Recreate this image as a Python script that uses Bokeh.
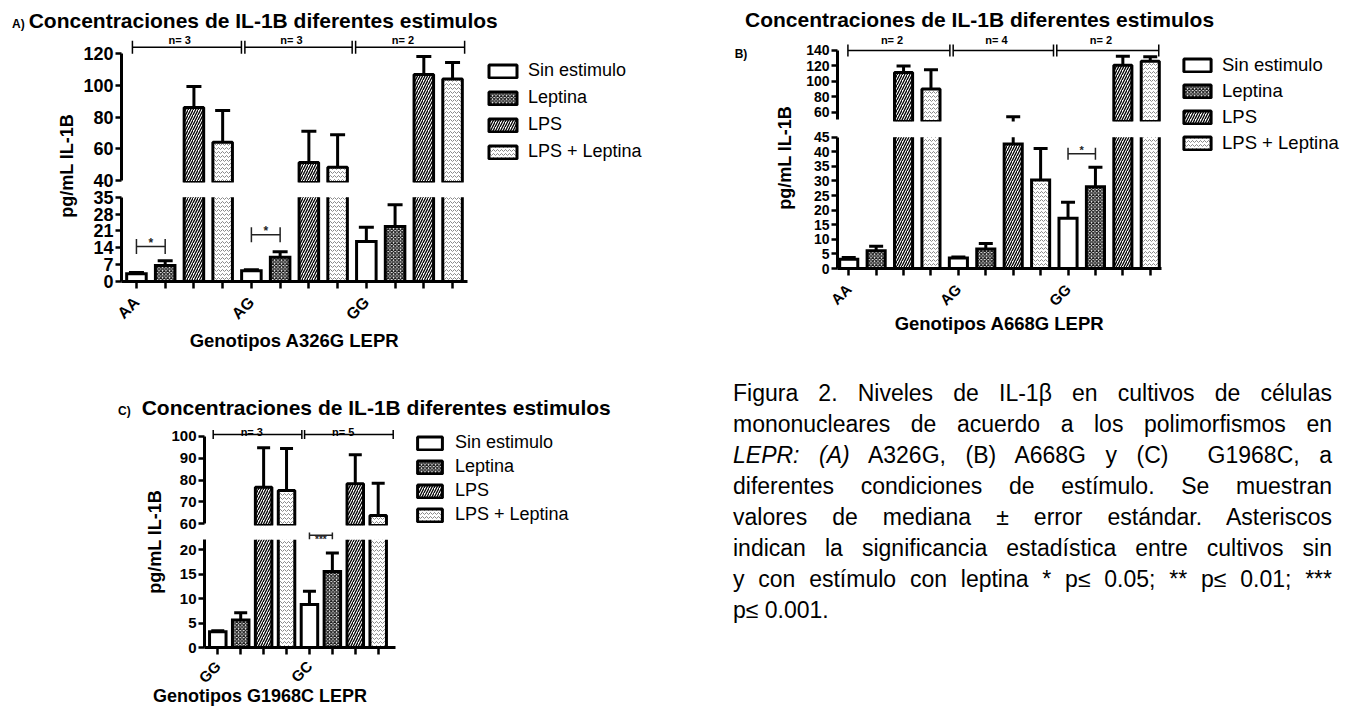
from math import pi
from bokeh.plotting import figure
from bokeh.models import (Range1d, FixedTicker, ColumnDataSource, Whisker, TeeHead,
                          Label, Legend, LegendItem, Div, Spacer)
from bokeh.layouts import row, column
from bokeh.embed import file_html
from bokeh.resources import INLINE
from bokeh.core.properties import value

FONT = "Liberation Sans"
CSS_FONT = "font-family:'Liberation Sans',Arial,sans-serif;"

# ---------------- data ----------------
conditions = ["Sin estimulo", "Leptina", "LPS", "LPS + Leptina"]
panel_title = "Concentraciones de IL-1B diferentes estimulos"
y_title = "pg/mL IL-1B"

# Panel A  (A326G)
a_genotypes = ["AA", "AG", "GG"]
a_n_labels = ["n= 3", "n= 3", "n= 2"]
a_sin = [3.2, 4.5, 16.6]
a_sin_err = [3.7, 4.9, 22.5]
a_lep = [6.6, 10.1, 22.8]
a_lep_err = [8.6, 12.3, 31.8]
a_lps = [86.1, 51.4, 106.9]
a_lps_err = [99.3, 71.1, 118.3]
a_lpslep = [64.2, 48.4, 104.0]
a_lpslep_err = [84.2, 68.9, 114.5]
a_sig_groups = [0, 1]
a_sig_levels = [14.5, 19.4]
a_sig_text = ["*", "*"]
a_upper_ticks = [40, 60, 80, 100, 120]
a_lower_ticks = [0, 7, 14, 21, 28, 35]
a_xtitle = "Genotipos A326G LEPR"

# Panel B  (A668G)
b_genotypes = ["AA", "AG", "GG"]
b_n_labels = ["n= 2", "n= 4", "n= 2"]
b_sin = [3.2, 3.6, 17.2]
b_sin_err = [3.8, 3.9, 22.7]
b_lep = [6.1, 6.7, 28.0]
b_lep_err = [7.6, 8.6, 34.7]
b_lps = [111.6, 42.7, 121.0]
b_lps_err = [120.0, 54.0, 132.5]
b_lpslep = [90.0, 30.3, 126.0]
b_lpslep_err = [115.0, 41.1, 132.0]
b_sig_groups = [2]
b_sig_levels = [39.3]
b_sig_text = ["*"]
b_upper_ticks = [60, 80, 100, 120, 140]
b_lower_ticks = [0, 5, 10, 15, 20, 25, 30, 35, 40, 45]
b_xtitle = "Genotipos A668G LEPR"

# Panel C  (G1968C)
c_genotypes = ["GG", "GC"]
c_n_labels = ["n= 3", "n= 5"]
c_sin = [3.2, 8.8]
c_sin_err = [3.4, 11.5]
c_lep = [5.6, 15.5]
c_lep_err = [7.1, 19.3]
c_lps = [76.8, 78.3]
c_lps_err = [94.9, 91.6]
c_lpslep = [75.3, 63.8]
c_lpslep_err = [94.5, 78.6]
c_sig_groups = [1]
c_sig_levels = [22.9]
c_sig_text = ["***"]
c_upper_ticks = [60, 70, 80, 90, 100]
c_lower_ticks = [0, 5, 10, 15, 20]
c_xtitle = "Genotipos G1968C LEPR"

caption_lines = [
    "Figura 2. Niveles de IL-1\u03b2 en cultivos de c\u00e9lulas",
    "mononucleares de acuerdo a los polimorfismos en",
    "<i>LEPR: (A)</i> A326G, (B) A668G y (C) &nbsp;G1968C, a",
    "diferentes condiciones de est\u00edmulo. Se muestran",
    "valores de mediana \u00b1 error est\u00e1ndar. Asteriscos",
    "indican la significancia estad\u00edstica entre cultivos sin",
    "y con est\u00edmulo con leptina * p\u2264 0.05; ** p\u2264 0.01; ***",
    "p\u2264 0.001.",
]

# ---------------- styles ----------------
STYLES = [
    dict(fill_color="white"),
    dict(fill_color="white", hatch_pattern="diagonal_cross", hatch_color="#1a1a1a",
         hatch_scale=3.5, hatch_weight=1.3),
    dict(fill_color="white", hatch_pattern="right_diagonal_line", hatch_color="#000000",
         hatch_scale=5, hatch_weight=1.3),
    dict(fill_color="white", hatch_pattern="horizontal_wave", hatch_color="#8a8a8a",
         hatch_scale=4, hatch_weight=1.0),
]


def base_fig(**kw):
    p = figure(toolbar_location=None, output_backend="svg", outline_line_color=None,
               background_fill_color="white", border_fill_color="white", **kw)
    p.grid.visible = False
    return p


def style_axis(ax, fs):
    ax.axis_line_width = 3
    ax.axis_line_color = "black"
    ax.major_tick_line_width = 2.5
    ax.major_tick_line_color = "black"
    ax.major_tick_out = 6
    ax.major_tick_in = 0
    ax.minor_tick_line_color = None
    ax.major_label_text_font = FONT
    ax.major_label_text_font_style = "bold"
    ax.major_label_text_font_size = f"{fs}px"
    ax.major_label_text_color = "black"
    ax.major_label_standoff = 2


def upper_bars(p, xs, vals, errs, w, lo, cap, style):
    # the frame clips everything below the break
    keep = [i for i, v in enumerate(vals) if v > lo]
    src = ColumnDataSource(dict(x=[xs[i] for i in keep], top=[vals[i] for i in keep]))
    p.vbar(x="x", top="top", bottom=0, width=w, source=src,
           line_color="black", line_width=3, **style)
    keep = [i for i, e in enumerate(errs) if e > lo]
    esrc = ColumnDataSource(dict(x=[xs[i] for i in keep], top=[vals[i] for i in keep],
                                 err=[errs[i] for i in keep]))
    p.segment(x0="x", y0="top", x1="x", y1="err", source=esrc, line_color="black", line_width=3)
    p.scatter(x="x", y="err", marker="dash", size=cap, source=esrc,
              line_color="black", line_width=3)


def lower_bars(p, xs, vals, errs, w, hi, cap, style):
    # bars are cut at the top of the lower segment (open at the break)
    tops = [min(v, hi) for v in vals]
    p.vbar(x=xs, top=tops, bottom=0, width=w, line_color=None, **style)
    mx, my = [], []
    for x, v, t in zip(xs, vals, tops):
        l, r = x - w / 2, x + w / 2
        if v <= hi:
            mx.append([l, l, r, r])
            my.append([0, t, t, 0])
        else:
            mx += [[l, l], [r, r]]
            my += [[0, t], [0, t]]
    p.multi_line(xs=mx, ys=my, line_color="black", line_width=3, line_join="miter")
    keep = [i for i, v in enumerate(vals) if v < hi]
    ex = [xs[i] for i in keep]
    p.segment(x0=ex, y0=[vals[i] for i in keep], x1=ex, y1=[min(errs[i], hi) for i in keep],
              line_color="black", line_width=3)
    keep = [i for i, e in enumerate(errs) if e <= hi]
    p.scatter(x=[xs[i] for i in keep], y=[errs[i] for i in keep], marker="dash", size=cap,
              line_color="black", line_width=3)


def build_panel(P):
    G = len(P["genotypes"])
    C = len(conditions)
    xr = Range1d(*P["xr"])
    figs = []
    for seg in ("upper", "lower"):
        S = P[seg]
        p = base_fig(x_range=xr, y_range=Range1d(*S["yr"]),
                     frame_width=P["fw"], frame_height=S["fh"],
                     min_border_left=P["mbl"], min_border_right=P["mbr"],
                     min_border_top=S["mbt"], min_border_bottom=S["mbb"],
                     x_axis_location=("below" if seg == "lower" else None))
        for c in range(C):
            xs = [g * C + c for g in range(G)]
            if seg == "upper":
                upper_bars(p, xs, P["vals"][c], P["errs"][c], P["bw"], S["yr"][0], P["cap"], STYLES[c])
            else:
                lower_bars(p, xs, P["vals"][c], P["errs"][c], P["bw"], S["bounds"][1], P["cap"], STYLES[c])
        yax = p.yaxis[0]
        style_axis(yax, P["ytick_fs"])
        yax.ticker = FixedTicker(ticks=S["ticks"])
        yax.bounds = S["bounds"]
        if seg == "upper":
            k = S["fh"] / (S["yr"][1] - S["yr"][0])
            top = S["ticks"][-1]
            lo, hi = P["xr"][0] + 0.38, P["xr"][1] - 0.1
            step = (hi - lo) / G
            x0s = [lo + g * step + (0.06 if g > 0 else 0) for g in range(G)]
            x1s = [lo + (g + 1) * step - (0.06 if g < G - 1 else 0) for g in range(G)]
            yb = top + P["br_dy"] / k
            bsrc = ColumnDataSource(dict(base=[yb] * G, lower=x0s, upper=x1s))
            p.add_layout(Whisker(source=bsrc, base="base", lower="lower", upper="upper",
                                 dimension="width", line_color="black", line_width=1.5,
                                 lower_head=TeeHead(size=P["br_tee"], line_width=1.5, line_color="black"),
                                 upper_head=TeeHead(size=P["br_tee"], line_width=1.5, line_color="black")))
            p.text(x=[(a + b) / 2 - 0.25 for a, b in zip(x0s, x1s)],
                   y=[top + P["nlab_dy"] / k] * G, text=P["n_labels"],
                   text_align="center", text_baseline="alphabetic",
                   text_font=value(FONT), text_font_style="bold",
                   text_font_size="11px", text_color="black")
        else:
            xax = p.xaxis[0]
            style_axis(xax, P["xlab_fs"])
            xax.ticker = FixedTicker(ticks=list(range(G * C)))
            xax.major_label_overrides = {i: (P["genotypes"][i // C] if i % C == 0 else "")
                                         for i in range(G * C)}
            xax.major_label_orientation = pi / 4
            xax.major_tick_out = 7
            xax.major_label_standoff = P["xlab_standoff"]
            xax.bounds = (P["xr"][0], P["xr"][1])
            if P["xtitle"]:
                xax.axis_label = P["xtitle"]
                xax.axis_label_text_font = FONT
                xax.axis_label_text_font_style = "bold"
                xax.axis_label_text_font_size = "18.5px"
                xax.axis_label_text_color = "black"
                xax.axis_label_standoff = P["xtitle_standoff"]
            sx0 = [g * C for g in P["sig_groups"]]
            sx1 = [g * C + 1 for g in P["sig_groups"]]
            ssrc = ColumnDataSource(dict(base=P["sig_levels"], lower=sx0, upper=sx1))
            p.add_layout(Whisker(source=ssrc, base="base", lower="lower", upper="upper",
                                 dimension="width", line_color="#222", line_width=1.5,
                                 lower_head=TeeHead(size=P["sig_tee"], line_width=1.5, line_color="#222"),
                                 upper_head=TeeHead(size=P["sig_tee"], line_width=1.5, line_color="#222")))
            for a, b, lev, t in zip(sx0, sx1, P["sig_levels"], P["sig_text"]):
                p.add_layout(Label(x=(a + b) / 2, y=lev, text=t, text_align="center",
                                   text_baseline="alphabetic", y_offset=P["star_dy"],
                                   text_font=FONT, text_font_style="bold",
                                   text_font_size=P["star_fs"], text_color="#222"))
        figs.append(p)
    return figs


def label_div(width, height, items):
    # items: (center x, center y, text, font px, rotation deg counter-clockwise)
    spans = "".join(
        f'<span style="position:absolute;left:{x}px;top:{y}px;'
        f'transform:translate(-50%,-50%) rotate({-deg}deg);white-space:nowrap;'
        f'font-size:{fs}px;line-height:1;">{txt}</span>'
        for (x, y, txt, fs, deg) in items)
    html = (f'<div style="position:relative;width:{width}px;height:{height}px;{CSS_FONT}'
            f'font-weight:bold;color:#000;">{spans}</div>')
    return Div(text=html, width=width, height=height, margin=0)


def legend_fig(width, height, mbl, mbt, gw, gh, standoff, spacing, fs):
    p = base_fig(x_range=Range1d(0, 1), y_range=Range1d(0, 1),
                 frame_width=width - mbl, frame_height=height - mbt,
                 min_border_left=mbl, min_border_top=mbt, min_border_right=0,
                 min_border_bottom=0, x_axis_location=None, y_axis_location=None)
    items = []
    for c, lab in enumerate(conditions):
        # legend-only renderer: hidden in the plot, shown only as a legend swatch
        r = p.vbar(x=[0.5], top=[1], bottom=[0], width=0.5, line_color="black",
                   line_width=3, **STYLES[c])
        r.visible = False
        items.append(LegendItem(label=lab, renderers=[r]))
    lg = Legend(items=items, location="top_left", margin=0, padding=0, spacing=spacing,
                glyph_width=gw, glyph_height=gh, label_height=gh, label_standoff=standoff,
                label_text_font=FONT, label_text_font_size=f"{fs}px",
                label_text_color="black", border_line_color=None, background_fill_alpha=0,
                inactive_fill_alpha=0)
    p.add_layout(lg)
    return p


def title_div(width, height, pad_left, pad_top, text, prefix="", gap=0):
    pre = (f'<span style="font-size:12px;margin-right:{gap}px">{prefix}</span>'
           if prefix else "")
    html = (f'<div style="{CSS_FONT}font-weight:bold;color:#000;'
            f'font-size:21px;line-height:22px;white-space:nowrap;'
            f'padding-left:{pad_left}px;padding-top:{pad_top}px;">{pre}<span>{text}</span></div>')
    return Div(text=html, width=width, height=height, margin=0)


# ---------------- Panel A ----------------
PA = dict(genotypes=a_genotypes, n_labels=a_n_labels,
          vals=[a_sin, a_lep, a_lps, a_lpslep], errs=[a_sin_err, a_lep_err, a_lps_err, a_lpslep_err],
          sig_groups=a_sig_groups, sig_levels=a_sig_levels, sig_text=a_sig_text,
          xr=(-0.52, 11.52), fw=346, mbl=43, mbr=10, bw=0.68, cap=15,
          upper=dict(yr=(38.7, 134.7), fh=152, mbt=0, mbb=6, ticks=a_upper_ticks, bounds=(40, 120)),
          lower=dict(yr=(0, 36.1), fh=87, mbt=6, mbb=91, ticks=a_lower_ticks, bounds=(0, 35)),
          ytick_fs=18, xlab_fs=16, xlab_standoff=11, xtitle=a_xtitle, xtitle_standoff=-2,
          br_dy=6.6, br_tee=13, nlab_dy=13.3, sig_tee=15, star_dy=4, star_fs="12px")
upA, loA = build_panel(PA)
ylabA = label_div(70, 342, [(59, 136, y_title, 18, 90)])
legA = legend_fig(248, 342, 8, 30, 35, 16, 8, 6, 18)
titleA = title_div(717, 22, 4, 2, panel_title, "A)", 4)
panelA = column(titleA, row(ylabA, column(upA, loA), legA))

# ---------------- Panel C ----------------
PC = dict(genotypes=c_genotypes, n_labels=c_n_labels,
          vals=[c_sin, c_lep, c_lps, c_lpslep], errs=[c_sin_err, c_lep_err, c_lps_err, c_lpslep_err],
          sig_groups=c_sig_groups, sig_levels=c_sig_levels, sig_text=c_sig_text,
          xr=(-0.58, 7.755), fw=191, mbl=36, mbr=8, bw=0.72, cap=13,
          upper=dict(yr=(59.22, 107.33), fh=105, mbt=0, mbb=7, ticks=c_upper_ticks, bounds=(60, 100)),
          lower=dict(yr=(0, 23.47), fh=115, mbt=0, mbb=45, ticks=c_lower_ticks, bounds=(0, 22)),
          ytick_fs=15, xlab_fs=15, xlab_standoff=9, xtitle=None, xtitle_standoff=0,
          br_dy=2, br_tee=9, nlab_dy=4, sig_tee=8, star_dy=-4, star_fs="10px")
upC, loC = build_panel(PC)
ylabC = label_div(160, 272, [(147, 122, y_title, 18, 90)])
legC = legend_fig(322, 272, 11, 12, 31, 16, 10, 3, 18)
titleC = title_div(717, 48, 110, 25, panel_title, "C)", 11)
xtitleC = Div(text=(f'<div style="{CSS_FONT}font-weight:bold;color:#000;position:relative;top:-5px;'
                    f'font-size:18px;line-height:13px;white-space:nowrap;padding-left:145px;">'
                    f'{c_xtitle}</div>'),
              width=717, height=6, margin=0, styles={"overflow": "visible"})
panelC = column(titleC, row(ylabC, column(upC, loC), legC), xtitleC)

left = column(panelA, panelC)

# ---------------- Panel B ----------------
PB = dict(genotypes=b_genotypes, n_labels=b_n_labels,
          vals=[b_sin, b_lep, b_lps, b_lpslep], errs=[b_sin_err, b_lep_err, b_lps_err, b_lpslep_err],
          sig_groups=b_sig_groups, sig_levels=b_sig_levels, sig_text=b_sig_text,
          xr=(-0.41, 11.41), fw=324, mbl=40, mbr=10, bw=0.66, cap=14,
          upper=dict(yr=(47.9, 165.9), fh=91, mbt=0, mbb=5, ticks=b_upper_ticks, bounds=(50, 140)),
          lower=dict(yr=(0, 45.93), fh=134, mbt=8, mbb=72, ticks=b_lower_ticks, bounds=(0, 45)),
          ytick_fs=14, xlab_fs=15, xlab_standoff=11, xtitle=b_xtitle, xtitle_standoff=-5,
          br_dy=0, br_tee=12, nlab_dy=10, sig_tee=12, star_dy=4, star_fs="11px")
upB, loB = build_panel(PB)
ylabB = label_div(72, 310, [(60, 128, y_title, 18, 90), (16, 24, "B)", 12, 0)])
legB = legend_fig(172, 310, 9, 24, 34, 16, 8, 4, 18.5)
titleB = title_div(618, 22, 20, 1, panel_title)
panelB = column(titleB, row(ylabB, column(upB, loB), legB))

cap_html = "".join(
    f'<div style="text-align:justify;text-align-last:justify;">{ln}</div>' for ln in caption_lines[:-1]
) + f'<div>{caption_lines[-1]}</div>'
caption = Div(text=(f'<div style="{CSS_FONT}color:#000;font-size:23px;'
                    f'line-height:31px;padding-left:8px;width:607px;">{cap_html}</div>'),
              width=618, height=248, margin=0)

right = column(panelB, Spacer(width=618, height=38), caption)

root = column(Spacer(width=1343, height=8), row(Spacer(width=8, height=690), row(left, right)))

with open("out.html", "w") as f:
    f.write(file_html(root, INLINE))
